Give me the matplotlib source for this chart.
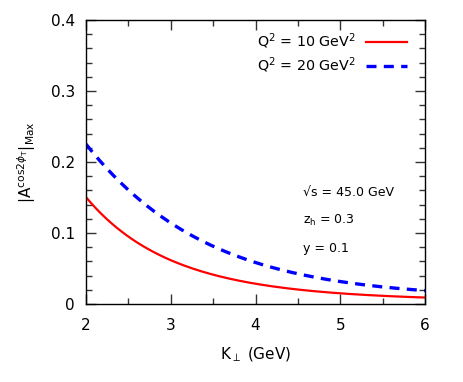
import matplotlib
matplotlib.use("Agg")
import matplotlib.pyplot as plt
from matplotlib.ticker import MultipleLocator
import numpy as np

kperp = [2.0, 2.5, 3.0, 3.5, 4.0, 4.5, 5.0, 5.5, 6.0]
a_q10 = [0.146, 0.102, 0.0596, 0.041, 0.028, 0.0207, 0.015, 0.0117, 0.009]
a_q20 = [0.224, 0.165, 0.110, 0.081, 0.060, 0.043, 0.031, 0.024, 0.019]

plt.rcParams['font.family'] = ['DejaVu Sans']
plt.rcParams['mathtext.fontset'] = 'dejavusans'

fig = plt.figure(figsize=(4.63, 3.82), dpi=100)
ax = fig.add_axes([86/463, 1-304/382, 339/463, 284/382])

xs = np.linspace(2, 6, 200)
c10 = np.polyfit(kperp, np.log(a_q10), 3)
c20 = np.polyfit(kperp, np.log(a_q20), 3)
y10 = np.exp(np.polyval(c10, xs))
y20 = np.exp(np.polyval(c20, xs))

ax.plot(xs, y10, color='#ff0000', lw=1.6, label=r'Q$^2$ = 10 GeV$^2$')
ax.plot(xs, y20, color='#0000ff', lw=2.4, ls=(0, (3.0, 2.2)), label=r'Q$^2$ = 20 GeV$^2$')

ax.set_xlim(2, 6)
ax.set_ylim(0, 0.4)
ax.xaxis.set_major_locator(MultipleLocator(1))
ax.xaxis.set_minor_locator(MultipleLocator(0.5))
ax.yaxis.set_major_locator(MultipleLocator(0.1))
ax.yaxis.set_minor_locator(MultipleLocator(0.02))
ax.set_yticks([0, 0.1, 0.2, 0.3, 0.4])
ax.set_yticklabels(['0', '0.1', '0.2', '0.3', '0.4'])
ax.tick_params(which='both', direction='in', top=True, right=True, labelsize=11, color='#333333')
ax.tick_params(which='major', length=7, width=1)
ax.tick_params(which='minor', length=4, width=1)
ax.tick_params(axis='x', pad=10)
ax.tick_params(axis='y', pad=8)
for s in ax.spines.values():
    s.set_linewidth(1.0)

ax.set_xlabel(r'K$_\perp$ (GeV)', fontsize=11, labelpad=9)
ax.set_ylabel(r'$|\mathrm{A}^{\mathrm{cos2}\phi_\mathrm{T}}|_{\mathrm{Max}}$', fontsize=11, labelpad=9)

leg = ax.legend(loc='upper right', frameon=False, markerfirst=False, fontsize=10.3,
                handlelength=2.9, bbox_to_anchor=(0.985, 1.005), labelspacing=0.32,
                handletextpad=0.7)

ax.text(0.640, 0.393, '√s = 45.0 GeV', transform=ax.transAxes, fontsize=9, va='center')
ax.text(0.640, 0.295, r'z$_\mathrm{h}$ = 0.3', transform=ax.transAxes, fontsize=9, va='center')
ax.text(0.640, 0.197, 'y = 0.1', transform=ax.transAxes, fontsize=9, va='center')

fig.savefig('out.png', dpi=100)
